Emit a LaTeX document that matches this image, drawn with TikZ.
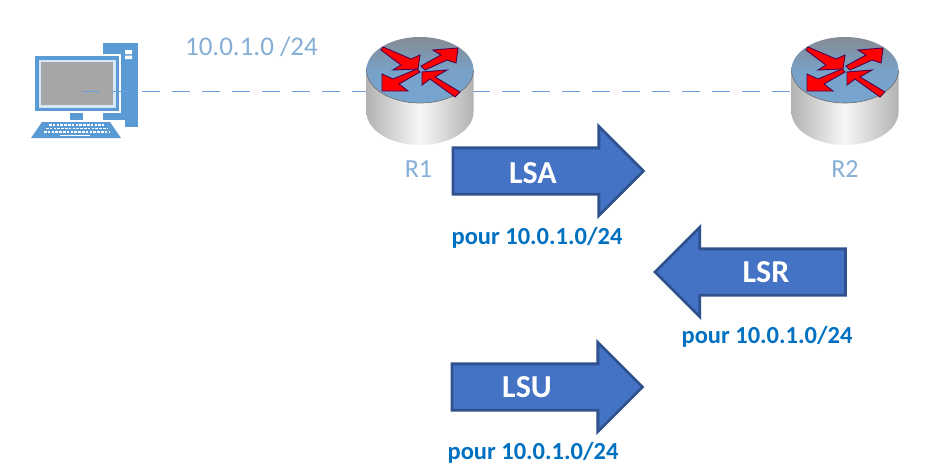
\documentclass[tikz,border=0pt]{standalone}
\usepackage{fontspec}
\setmainfont{Carlito}
\usetikzlibrary{shapes.arrows}
\definecolor{pcblue}{HTML}{5B9BD5}
\definecolor{lblblue}{HTML}{85AFD6}
\definecolor{pourblue}{HTML}{0070C0}
\definecolor{arrfill}{HTML}{4472C4}
\definecolor{arredge}{HTML}{2F528F}
\definecolor{rtop}{HTML}{76A5D0}
\definecolor{rgrey}{HTML}{858B94}
\definecolor{lineblue}{HTML}{6A9FD8}
\tikzset{
  x=1pt,y=-1pt,
  blockarrow/.style={single arrow,draw=arredge,fill=arrfill,line width=2.8pt,inner sep=0pt,outer sep=0pt,
    minimum height=190.5pt,single arrow head extend=21.5pt,single arrow tip angle=90,single arrow head indent=0pt},
  arrowtext/.style={text=white,font=\fontsize{32}{35}\selectfont\bfseries,inner sep=0pt},
  pourtext/.style={text=pourblue,font=\fontsize{24.5}{28}\selectfont\bfseries,inner sep=0pt},
  lbltext/.style={text=lblblue,inner sep=0pt},
  redarrow/.style={fill=red,draw=red!45!black!70!blue,line width=0.9pt,line join=miter},
  link/.style={lineblue,line width=1pt,dash pattern=on 18pt off 12pt},
  router/.pic={
    \shade[left color=black!30,right color=black!30,middle color=black!3]
      (-53.5,0) -- (-53.5,42) arc[start angle=180,end angle=0,x radius=53.5,y radius=33] -- (53.5,0) -- cycle;
    \shade[top color=rgrey,bottom color=rtop,middle color=rtop!85!rgrey]
      (0,0) ellipse[x radius=53.5,y radius=33];
    \draw[line width=0.7pt,black!55] (-53.5,0) arc[start angle=180,end angle=0,x radius=53.5,y radius=33];
    \draw[redarrow] (-37,-23) -- (-39,-20) -- (-19,-5) -- (-27,0) -- (-2,-1) -- (0,-15) -- (-9,-11) -- cycle;
    \draw[redarrow] (38,-22) -- (13,-20) -- (21,-15) -- (1,-4) -- (5,0) -- (27,-10) -- (36,-7) -- cycle;
    \draw[redarrow] (2,2) -- (27,0) -- (15,7) -- (40,22) -- (35,27) -- (10,9) -- (2,15) -- cycle;
    \draw[redarrow] (-38,21) -- (-38,4) -- (-27,9) -- (-3,-1) -- (0,2) -- (-21,14) -- (-12,21) -- cycle;
  }
}
\begin{document}
\begin{tikzpicture}
\useasboundingbox (0,0) rectangle (946,467);
\fill[white] (0,0) rectangle (946,467);
% computer
\fill[pcblue] (103,43) rectangle (138,127);
\fill[white] (125,50) rectangle (132,54) (125,55.5) rectangle (132,59);
\fill[white] (33,54) rectangle (121,113);
\fill[pcblue] (35,56) rectangle (119,111);
\fill[white!75!pcblue] (38.5,59.5) rectangle (115.5,107.5);
\fill[black!35] (41,62) rectangle (113,105);
\fill[pcblue] (70,113) rectangle (83,120);
\fill[white] (100,120) rectangle (125,140);
\fill[pcblue] (42,122) -- (110,122) -- (121,138) -- (31,138) -- cycle;
\draw[white,line width=1.6pt,dash pattern=on 2.6pt off 1.2pt] (49,125) -- (104,125);
\draw[white,line width=1.6pt,dash pattern=on 2.6pt off 1.2pt] (46,128.5) -- (107,128.5);
\draw[white,line width=1.6pt,dash pattern=on 2.6pt off 1.2pt] (44,132) -- (109,132);
\draw[white,line width=1.6pt] (60,135.5) -- (90,135.5);
% anchors
\coordinate (pc) at (82,91);
\coordinate (R1) at (420,70);
\coordinate (R2) at (845,70);
% link
\draw[link] (pc) -- (R1 |- pc) -- (R2 |- pc);
% routers
\pic at (R1) {router};
\pic at (R2) {router};
% labels
\node[lbltext,font=\fontsize{27}{30}\selectfont] (net) at (251.5,47) {10.0.1.0 /24};
\node[lbltext,font=\fontsize{26}{30}\selectfont] (r1l) at (418.5,169) {R1};
\node[lbltext,font=\fontsize{26}{30}\selectfont] (r2l) at (845,169) {R2};
% big arrows
\node[blockarrow,anchor=tail] (lsa) at (453,171) {\rule{0pt}{43.5pt}};
\node[arrowtext] (lsat) at (533,173) {LSA};
\node[pourtext] (lsap) at (537,238) {pour 10.0.1.0/24};
\node[blockarrow,anchor=tail,shape border rotate=180] (lsr) at (845.5,272) {\rule{0pt}{43.5pt}};
\node[arrowtext] (lsrt) at (766,272) {LSR};
\node[pourtext] (lsrp) at (767,337) {pour 10.0.1.0/24};
\node[blockarrow,anchor=tail] (lsu) at (452,387) {\rule{0pt}{43.5pt}};
\node[arrowtext] (lsut) at (527,387) {LSU};
\node[pourtext] (lsup) at (533,453) {pour 10.0.1.0/24};
\end{tikzpicture}
\end{document}
